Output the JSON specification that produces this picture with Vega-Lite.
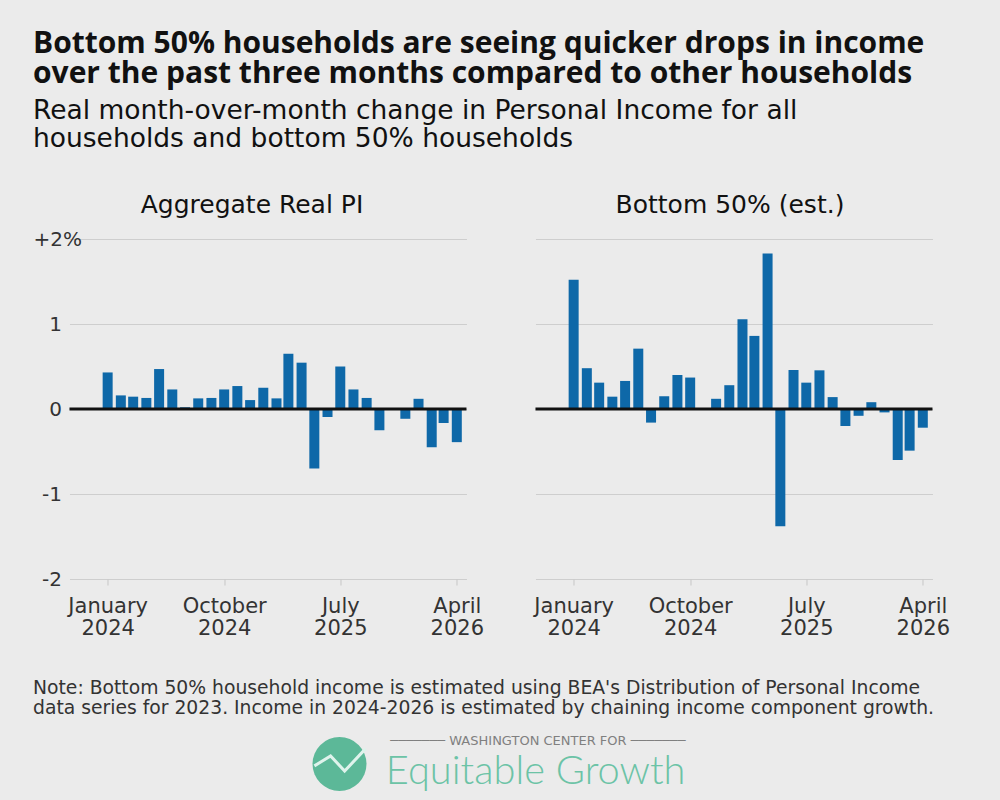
{
  "$schema": "https://vega.github.io/schema/vega-lite/v6.json",
  "background": "#ebebeb",
  "padding": {"left": 32, "top": 28, "right": 50, "bottom": 11},
  "title": {
    "text": ["Bottom 50% households are seeing quicker drops in income", "over the past three months compared to other households"],
    "subtitle": ["Real month-over-month change in Personal Income for all", "households and bottom 50% households"],
    "anchor": "start",
    "frame": "bounds",
    "font": "Open Sans",
    "fontSize": 30,
    "fontWeight": "bold",
    "color": "#111111",
    "lineHeight": 30,
    "subtitleFont": "DejaVu Sans",
    "subtitleFontSize": 26.5,
    "subtitleColor": "#111111",
    "subtitleLineHeight": 28,
    "subtitlePadding": 9,
    "offset": 41
  },
  "data": {
    "values": [
      {"month": "2024-01-01", "series": "Aggregate Real PI", "value": 0.43},
      {"month": "2024-02-01", "series": "Aggregate Real PI", "value": 0.16},
      {"month": "2024-03-01", "series": "Aggregate Real PI", "value": 0.145},
      {"month": "2024-04-01", "series": "Aggregate Real PI", "value": 0.13},
      {"month": "2024-05-01", "series": "Aggregate Real PI", "value": 0.47},
      {"month": "2024-06-01", "series": "Aggregate Real PI", "value": 0.23},
      {"month": "2024-07-01", "series": "Aggregate Real PI", "value": 0.02},
      {"month": "2024-08-01", "series": "Aggregate Real PI", "value": 0.125},
      {"month": "2024-09-01", "series": "Aggregate Real PI", "value": 0.13},
      {"month": "2024-10-01", "series": "Aggregate Real PI", "value": 0.23},
      {"month": "2024-11-01", "series": "Aggregate Real PI", "value": 0.27},
      {"month": "2024-12-01", "series": "Aggregate Real PI", "value": 0.105},
      {"month": "2025-01-01", "series": "Aggregate Real PI", "value": 0.25},
      {"month": "2025-02-01", "series": "Aggregate Real PI", "value": 0.125},
      {"month": "2025-03-01", "series": "Aggregate Real PI", "value": 0.65},
      {"month": "2025-04-01", "series": "Aggregate Real PI", "value": 0.545},
      {"month": "2025-05-01", "series": "Aggregate Real PI", "value": -0.7},
      {"month": "2025-06-01", "series": "Aggregate Real PI", "value": -0.095},
      {"month": "2025-07-01", "series": "Aggregate Real PI", "value": 0.5},
      {"month": "2025-08-01", "series": "Aggregate Real PI", "value": 0.23},
      {"month": "2025-09-01", "series": "Aggregate Real PI", "value": 0.13},
      {"month": "2025-10-01", "series": "Aggregate Real PI", "value": -0.25},
      {"month": "2025-11-01", "series": "Aggregate Real PI", "value": 0.0},
      {"month": "2025-12-01", "series": "Aggregate Real PI", "value": -0.115},
      {"month": "2026-01-01", "series": "Aggregate Real PI", "value": 0.12},
      {"month": "2026-02-01", "series": "Aggregate Real PI", "value": -0.45},
      {"month": "2026-03-01", "series": "Aggregate Real PI", "value": -0.165},
      {"month": "2026-04-01", "series": "Aggregate Real PI", "value": -0.39},
      {"month": "2024-01-01", "series": "Bottom 50% (est.)", "value": 1.52},
      {"month": "2024-02-01", "series": "Bottom 50% (est.)", "value": 0.48},
      {"month": "2024-03-01", "series": "Bottom 50% (est.)", "value": 0.31},
      {"month": "2024-04-01", "series": "Bottom 50% (est.)", "value": 0.145},
      {"month": "2024-05-01", "series": "Bottom 50% (est.)", "value": 0.33},
      {"month": "2024-06-01", "series": "Bottom 50% (est.)", "value": 0.71},
      {"month": "2024-07-01", "series": "Bottom 50% (est.)", "value": -0.16},
      {"month": "2024-08-01", "series": "Bottom 50% (est.)", "value": 0.15},
      {"month": "2024-09-01", "series": "Bottom 50% (est.)", "value": 0.4},
      {"month": "2024-10-01", "series": "Bottom 50% (est.)", "value": 0.37},
      {"month": "2024-11-01", "series": "Bottom 50% (est.)", "value": 0.0},
      {"month": "2024-12-01", "series": "Bottom 50% (est.)", "value": 0.12},
      {"month": "2025-01-01", "series": "Bottom 50% (est.)", "value": 0.28},
      {"month": "2025-02-01", "series": "Bottom 50% (est.)", "value": 1.055},
      {"month": "2025-03-01", "series": "Bottom 50% (est.)", "value": 0.86},
      {"month": "2025-04-01", "series": "Bottom 50% (est.)", "value": 1.83},
      {"month": "2025-05-01", "series": "Bottom 50% (est.)", "value": -1.38},
      {"month": "2025-06-01", "series": "Bottom 50% (est.)", "value": 0.46},
      {"month": "2025-07-01", "series": "Bottom 50% (est.)", "value": 0.31},
      {"month": "2025-08-01", "series": "Bottom 50% (est.)", "value": 0.455},
      {"month": "2025-09-01", "series": "Bottom 50% (est.)", "value": 0.14},
      {"month": "2025-10-01", "series": "Bottom 50% (est.)", "value": -0.2},
      {"month": "2025-11-01", "series": "Bottom 50% (est.)", "value": -0.08},
      {"month": "2025-12-01", "series": "Bottom 50% (est.)", "value": 0.08},
      {"month": "2026-01-01", "series": "Bottom 50% (est.)", "value": -0.04},
      {"month": "2026-02-01", "series": "Bottom 50% (est.)", "value": -0.6},
      {"month": "2026-03-01", "series": "Bottom 50% (est.)", "value": -0.49},
      {"month": "2026-04-01", "series": "Bottom 50% (est.)", "value": -0.22}
    ]
  },
  "spacing": 17,
  "center": true,
  "vconcat": [
    {
      "bounds": "flush",
      "spacing": 69,
      "title": {
        "text": [
          "Note: Bottom 50% household income is estimated using BEA's Distribution of Personal Income",
          "data series for 2023. Income in 2024-2026 is estimated by chaining income component growth."
        ],
        "orient": "bottom",
        "anchor": "start",
        "frame": "bounds",
        "font": "DejaVu Sans",
        "fontSize": 18.75,
        "fontWeight": "normal",
        "color": "#333333",
        "lineHeight": 20,
        "offset": 41
      },
      "hconcat": [
        {
          "title": {"text": "Aggregate Real PI", "dx": -16, "offset": 11},
          "width": 397,
          "height": 340,
          "transform": [{"filter": "datum.series == 'Aggregate Real PI'"}],
          "layer": [
            {
              "mark": {"type": "bar", "width": 10, "color": "#0e68a8"},
              "encoding": {
                "x": {
                  "field": "month",
                  "type": "temporal",
                  "scale": {
                    "type": "utc",
                    "domain": [
                      {"year": 2023, "month": 10, "date": 15, "utc": true},
                      {"year": 2026, "month": 4, "date": 12, "utc": true}
                    ]
                  },
                  "axis": {
                    "values": [
                      {"year": 2024, "month": 1, "date": 1, "utc": true},
                      {"year": 2024, "month": 10, "date": 1, "utc": true},
                      {"year": 2025, "month": 7, "date": 1, "utc": true},
                      {"year": 2026, "month": 4, "date": 1, "utc": true}
                    ],
                    "labelExpr": "[utcFormat(datum.value, '%B'), utcFormat(datum.value, '%Y')]",
                    "labelFontSize": 21,
                    "grid": false,
                    "ticks": true,
                    "tickSize": 6,
                    "tickColor": "#c6c6c6",
                    "labelPadding": 10,
                    "labelLineHeight": 22
                  }
                },
                "y": {
                  "field": "value",
                  "type": "quantitative",
                  "scale": {"domain": [-2, 2]},
                  "axis": {
                    "values": [-2, -1, 0, 1, 2],
                    "labelExpr": "datum.value == 2 ? '+2%' : (datum.value < 0 ? '-' + abs(datum.value) : '' + datum.value)",
                    "ticks": false,
                    "labelPadding": {"condition": {"test": "datum.value == 2", "value": -12}, "value": 8}
                  }
                }
              }
            },
            {
              "data": {"values": [{"zero": 0}]},
              "mark": {"type": "rule", "color": "#111111", "strokeWidth": 3},
              "encoding": {"y": {"field": "zero", "type": "quantitative"}}
            }
          ]
        },
        {
          "title": {"text": "Bottom 50% (est.)", "dx": -4, "offset": 21},
          "width": 397,
          "height": 340,
          "transform": [{"filter": "datum.series == 'Bottom 50% (est.)'"}],
          "layer": [
            {
              "mark": {"type": "bar", "width": 10, "color": "#0e68a8"},
              "encoding": {
                "x": {
                  "field": "month",
                  "type": "temporal",
                  "scale": {
                    "type": "utc",
                    "domain": [
                      {"year": 2023, "month": 10, "date": 15, "utc": true},
                      {"year": 2026, "month": 4, "date": 12, "utc": true}
                    ]
                  },
                  "axis": {
                    "values": [
                      {"year": 2024, "month": 1, "date": 1, "utc": true},
                      {"year": 2024, "month": 10, "date": 1, "utc": true},
                      {"year": 2025, "month": 7, "date": 1, "utc": true},
                      {"year": 2026, "month": 4, "date": 1, "utc": true}
                    ],
                    "labelExpr": "[utcFormat(datum.value, '%B'), utcFormat(datum.value, '%Y')]",
                    "labelFontSize": 21,
                    "grid": false,
                    "ticks": true,
                    "tickSize": 6,
                    "tickColor": "#c6c6c6",
                    "labelPadding": 10,
                    "labelLineHeight": 22
                  }
                },
                "y": {
                  "field": "value",
                  "type": "quantitative",
                  "scale": {"domain": [-2, 2]},
                  "axis": {
                    "values": [-2, -1, 0, 1, 2],
                    "labels": false,
                    "ticks": false
                  }
                }
              }
            },
            {
              "data": {"values": [{"zero": 0}]},
              "mark": {"type": "rule", "color": "#111111", "strokeWidth": 3},
              "encoding": {"y": {"field": "zero", "type": "quantitative"}}
            }
          ]
        }
      ]
    },
    {
      "width": 394,
      "height": 56,
      "title": {
        "text": "───────  WASHINGTON CENTER FOR  ───────",
        "subtitle": "Equitable Growth",
        "anchor": "end",
        "frame": "group",
        "dx": -21,
        "offset": -56,
        "font": "DejaVu Sans",
        "fontSize": 13,
        "fontWeight": "normal",
        "color": "#808080",
        "subtitleFont": "Lato",
        "subtitleFontSize": 39.8,
        "subtitleFontWeight": 300,
        "subtitleColor": "#6cc3a6",
        "subtitlePadding": 5
      },
      "layer": [
        {
          "data": {"values": [{"cx": 0, "cy": 0}]},
          "mark": {"type": "point", "shape": "circle", "filled": true, "size": 2916, "color": "#5cb898", "opacity": 1},
          "encoding": {
            "x": {"field": "cx", "type": "quantitative", "scale": {"domain": [-1, 13.59]}, "axis": null},
            "y": {"field": "cy", "type": "quantitative", "scale": {"domain": [-1.037, 1.037]}, "axis": null}
          }
        },
        {
          "data": {
            "values": [
              {"step": 1, "px": -0.93, "py": -0.07},
              {"step": 2, "px": -0.33, "py": 0.3},
              {"step": 3, "px": 0.19, "py": -0.26},
              {"step": 4, "px": 0.96, "py": 0.56}
            ]
          },
          "mark": {"type": "line", "color": "#dff3ec", "strokeWidth": 3},
          "encoding": {
            "x": {"field": "px", "type": "quantitative", "scale": {"domain": [-1, 13.59]}, "axis": null},
            "y": {"field": "py", "type": "quantitative", "scale": {"domain": [-1.037, 1.037]}, "axis": null},
            "order": {"field": "step"}
          }
        }
      ]
    }
  ],
  "config": {
    "view": {"stroke": null},
    "font": "DejaVu Sans",
    "title": {"font": "DejaVu Sans", "fontSize": 25, "fontWeight": "normal", "color": "#111111", "anchor": "middle"},
    "axis": {
      "labelFont": "DejaVu Sans",
      "labelFontSize": 20,
      "labelColor": "#333333",
      "gridColor": "#cecece",
      "gridWidth": 1,
      "domain": false,
      "title": null
    }
  }
}
